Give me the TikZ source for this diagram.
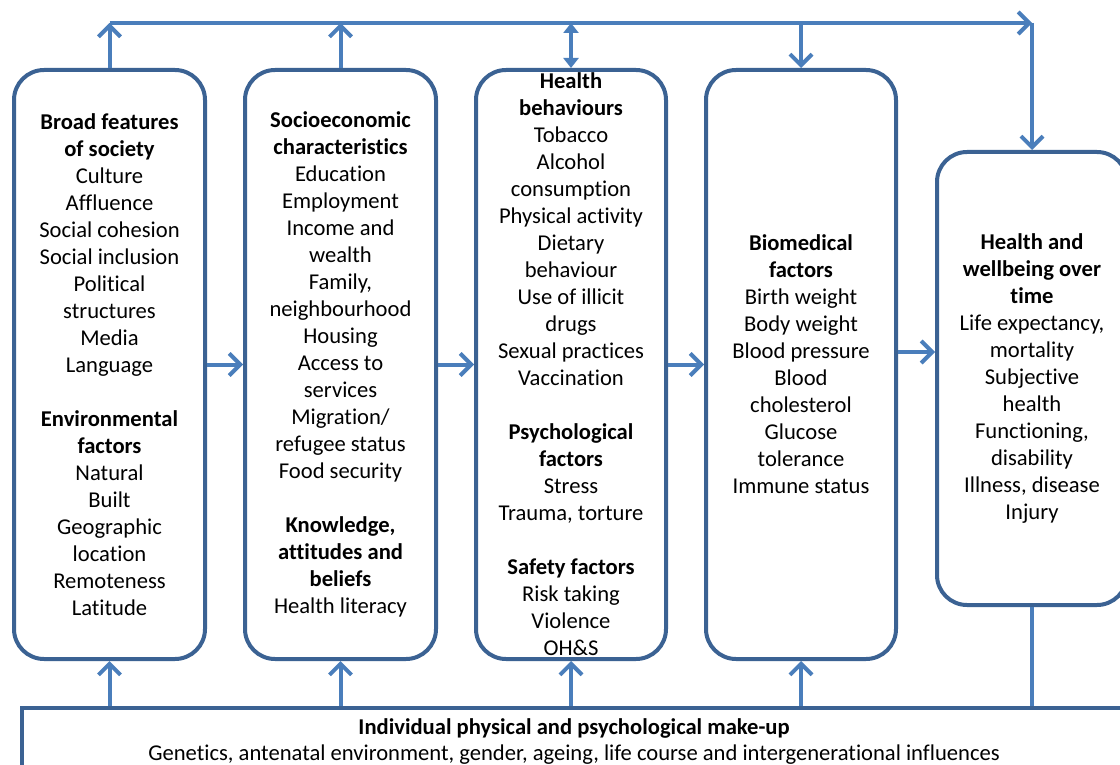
\documentclass[tikz,border=0pt]{standalone}
\usepackage{fontspec}
\setmainfont{Carlito}[Ligatures={NoCommon}]
\usetikzlibrary{arrows.meta}
\definecolor{boxc}{HTML}{3B6293}
\definecolor{arrc}{HTML}{4A7EBB}
\begin{document}
\begin{tikzpicture}[x=1pt,y=-1pt,
  box/.style={draw=boxc, line width=4pt, rounded corners=30pt, align=center,
    font=\fontsize{22.6pt}{27pt}\selectfont, inner sep=0pt},
  basebox/.style={draw=boxc, line width=4pt, align=center,
    font=\fontsize{22.6pt}{26pt}\selectfont, inner sep=0pt},
  arr/.style={draw=arrc, line width=4pt, -{Straight Barb[length=11pt,width=22pt]}},
  dbl/.style={draw=arrc, line width=4pt, {Triangle[length=10pt,width=15pt]}-{Triangle[length=10pt,width=15pt]}},
  plain/.style={draw=arrc, line width=4pt}]
\useasboundingbox (0,0) rectangle (1120,765);
\clip (0,0) rectangle (1120,765);

\node[box, minimum width=191pt, minimum height=589pt] (b1) at (109.5,364.5)
 {\textbf{Broad features}\\\textbf{of society}\\Culture\\Affluence\\Social cohesion\\Social inclusion\\Political\\structures\\Media\\Language\\[27pt]
  \textbf{Environmental}\\\textbf{factors}\\Natural\\Built\\Geographic\\location\\Remoteness\\Latitude};

\node[box, minimum width=191pt, minimum height=589pt] (b2) at (340.5,364.5)
 {\textbf{Socioeconomic}\\\textbf{characteristics}\\Education\\Employment\\Income and\\wealth\\Family,\\neighbourhood\\Housing\\Access to\\services\\Migration/\\refugee status\\Food security\\[27pt]
  \textbf{Knowledge,}\\\textbf{attitudes and}\\\textbf{beliefs}\\Health literacy};

\node[box, minimum width=190pt, minimum height=589pt] (b3) at (571,364.5)
 {\textbf{Health}\\\textbf{behaviours}\\Tobacco\\Alcohol\\consumption\\Physical activity\\Dietary\\behaviour\\Use of illicit\\drugs\\Sexual practices\\Vaccination\\[27pt]
  \textbf{Psychological}\\\textbf{factors}\\Stress\\Trauma, torture\\[27pt]
  \textbf{Safety factors}\\Risk taking\\Violence\\OH\&S};

\node[box, minimum width=190pt, minimum height=589pt] (b4) at (801,364.5)
 {\textbf{Biomedical}\\\textbf{factors}\\Birth weight\\Body weight\\Blood pressure\\Blood\\cholesterol\\Glucose\\tolerance\\Immune status};

\node[box, minimum width=190pt, minimum height=453pt] (b5) at (1032,378.5)
 {\textbf{Health and}\\\textbf{wellbeing over}\\\textbf{time}\\Life expectancy,\\mortality\\Subjective\\health\\Functioning,\\disability\\Illness, disease\\Injury};

\node[basebox, minimum width=1104pt, minimum height=68pt] (bot) at (574,742)
 {\textbf{Individual physical and psychological make-up}\\Genetics, antenatal environment, gender, ageing, life course and intergenerational influences};

\coordinate (tl) at (109.5,23);
\coordinate (tr) at (1032,23);

% top line
\draw[arr] (tl) -- (tr);
\draw[arr] (b1.north) -- (b1.north |- tl);
\draw[arr] (b2.north) -- (b2.north |- tl);
\draw[dbl] (b3.north) -- (b3.north |- tl);
\draw[arr] (b4.north |- tl) -- (b4.north);
\draw[arr] (tr) -- (b5.north);

% horizontal chain
\draw[arr] (b1.east) -- (b2.west);
\draw[arr] (b2.east) -- (b3.west);
\draw[arr] (b3.east) -- (b4.west);
\draw[arr] (b4.east |- 0,352) -- (b5.west |- 0,352);

% from bottom
\draw[arr] (bot.north -| b1.south) -- (b1.south);
\draw[arr] (bot.north -| b2.south) -- (b2.south);
\draw[arr] (bot.north -| b3.south) -- (b3.south);
\draw[arr] (bot.north -| b4.south) -- (b4.south);
\draw[plain] (bot.north -| b5.south) -- (b5.south);
\end{tikzpicture}
\end{document}
